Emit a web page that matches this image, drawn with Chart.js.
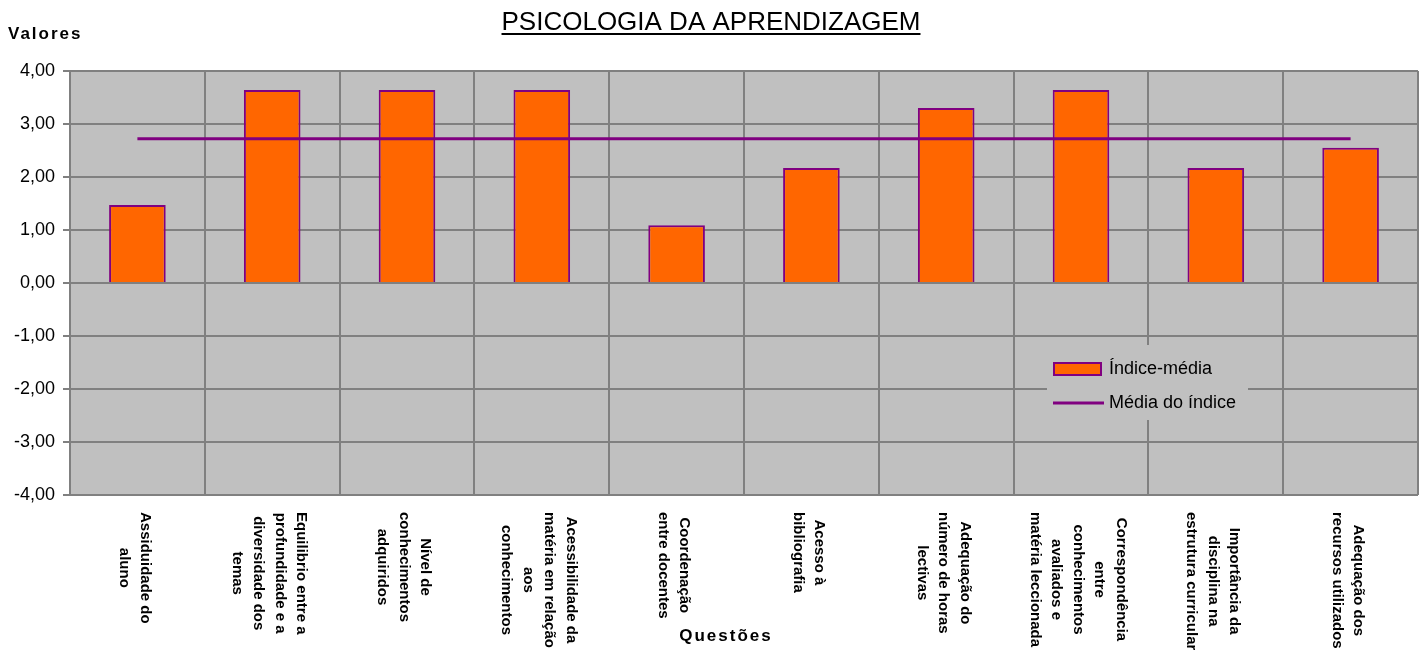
<!DOCTYPE html>
<html lang="pt">
<head>
<meta charset="utf-8">
<title>Psicologia da Aprendizagem</title>
<script src="https://cdn.jsdelivr.net/npm/chart.js@4.4.0/dist/chart.umd.min.js"></script>
<style>
  html, body { margin: 0; padding: 0; background: #ffffff; }
</style>
</head>
<body>
<canvas id="grafico" width="1426" height="655"></canvas>
<script>
// Questões (rótulos do eixo X, uma linha por elemento)
const questoes = [
    ["Assiduidade do", "aluno"],
    ["Equilibrio entre a", "profundidade e a", "diversidade dos", "temas"],
    ["Nível de", "conhecimentos", "adquiridos"],
    ["Acessibilidade da", "matéria em relação", "aos", "conhecimentos"],
    ["Coordenação", "entre docentes"],
    ["Acesso à", "bibliografia"],
    ["Adequação do", "número de horas", "lectivas"],
    ["Correspondência", "entre", "conhecimentos", "avaliados e", "matéria leccionada"],
    ["Importância da", "disciplina na", "estrutura curricular"],
    ["Adequação dos", "recursos utilizados"]
];

// Valores
const indiceMedia = [1.47, 3.64, 3.64, 3.64, 1.09, 2.17, 3.30, 3.64, 2.17, 2.55];
const mediaDoIndice = [2.72, 2.72, 2.72, 2.72, 2.72, 2.72, 2.72, 2.72, 2.72, 2.72];

// Marcas do eixo Y
const valoresY = [-4, -3, -2, -1, 0, 1, 2, 3, 4];

const FONTE = '"Liberation Sans", Arial, sans-serif';
const ROXO = "#800080";
const LARANJA = "#FF6600";
const CINZA = "#C0C0C0";
const GRELHA = "#808080";

// Fundo cinzento da área do gráfico
const fundoPlugin = {
    id: "fundo",
    beforeDraw(chart) {
        const { ctx, chartArea: a } = chart;
        ctx.save();
        ctx.fillStyle = CINZA;
        ctx.fillRect(a.left, a.top, a.right - a.left, a.bottom - a.top);
        ctx.restore();
    }
};

// Títulos, rótulos rodados e legenda
const textosPlugin = {
    id: "textos",
    afterDraw(chart) {
        const ctx = chart.ctx;
        const xScale = chart.scales.x;
        ctx.save();

        // Título sublinhado
        ctx.fillStyle = "#000";
        ctx.font = "26px " + FONTE;
        ctx.textAlign = "center";
        ctx.textBaseline = "alphabetic";
        const titulo = "PSICOLOGIA DA APRENDIZAGEM";
        const cx = 711;
        ctx.fillText(titulo, cx, 30);
        const w = ctx.measureText(titulo).width;
        ctx.fillRect(cx - w / 2, 33, w, 2);

        // Títulos dos eixos
        ctx.font = "bold 17px " + FONTE;
        ctx.letterSpacing = "2px";
        ctx.textAlign = "left";
        ctx.fillText("Valores", 8, 39);
        ctx.textAlign = "center";
        ctx.fillText("Questões", 726, 641);
        ctx.letterSpacing = "0px";

        // Rótulos das questões, rodados 90 graus
        ctx.font = "bold 15px " + FONTE;
        ctx.textBaseline = "middle";
        const entreLinhas = 21.5;
        questoes.forEach((linhas, i) => {
            const x = xScale.getPixelForValue(i) - 3;
            let maior = 0;
            linhas.forEach(l => { maior = Math.max(maior, ctx.measureText(l).width); });
            ctx.save();
            ctx.translate(x, 512);
            ctx.rotate(Math.PI / 2);
            linhas.forEach((l, j) => {
                ctx.fillText(l, maior / 2, (j - (linhas.length - 1) / 2) * entreLinhas);
            });
            ctx.restore();
        });

        // Legenda dentro da área do gráfico
        const ds = chart.data.datasets;
        ctx.fillStyle = CINZA;
        ctx.fillRect(1047, 345, 201, 75);

        ctx.fillStyle = ds[0].backgroundColor;
        ctx.fillRect(1054, 363, 47, 12);
        ctx.strokeStyle = ds[0].borderColor;
        ctx.lineWidth = 2;
        ctx.strokeRect(1054, 363, 47, 12);

        ctx.strokeStyle = ds[1].borderColor;
        ctx.lineWidth = 3;
        ctx.beginPath();
        ctx.moveTo(1053, 403);
        ctx.lineTo(1104, 403);
        ctx.stroke();

        ctx.fillStyle = "#000";
        ctx.font = "18px " + FONTE;
        ctx.textAlign = "left";
        ctx.fillText(ds[0].label, 1109, 369);
        ctx.fillText(ds[1].label, 1109, 403);

        ctx.restore();
    }
};

const ctx = document.getElementById("grafico").getContext("2d");

new Chart(ctx, {
    type: "bar",
    data: {
        labels: questoes,
        datasets: [
            {
                label: "Índice-média",
                data: indiceMedia,
                backgroundColor: LARANJA,
                borderColor: ROXO,
                borderWidth: 2,
                barPercentage: 0.42,
                categoryPercentage: 1,
                order: 2
            },
            {
                type: "line",
                label: "Média do índice",
                data: mediaDoIndice,
                borderColor: ROXO,
                backgroundColor: ROXO,
                borderWidth: 3,
                pointRadius: 0,
                fill: false,
                order: 1
            }
        ]
    },
    options: {
        responsive: false,
        animation: false,
        layout: { padding: { top: 71, right: 8, bottom: 0, left: 0 } },
        plugins: {
            legend: { display: false },
            title: { display: false },
            tooltip: { enabled: false }
        },
        scales: {
            x: {
                offset: true,
                grid: { color: GRELHA, lineWidth: 2, offset: true, drawTicks: false },
                border: { display: false },
                ticks: { display: false },
                afterFit(scale) { scale.height = 160; }
            },
            y: {
                min: -4,
                max: 4,
                afterBuildTicks(scale) {
                    scale.ticks = valoresY.map(v => ({ value: v }));
                },
                ticks: {
                    color: "#000",
                    padding: 8,
                    font: { family: FONTE, size: 18 },
                    callback: v => Number(v).toFixed(2).replace(".", ",")
                },
                grid: { color: GRELHA, lineWidth: 2, tickLength: 7 },
                border: { color: GRELHA, width: 2 },
                afterFit(scale) { scale.width = 70; }
            }
        }
    },
    plugins: [fundoPlugin, textosPlugin]
});
</script>
</body>
</html>
